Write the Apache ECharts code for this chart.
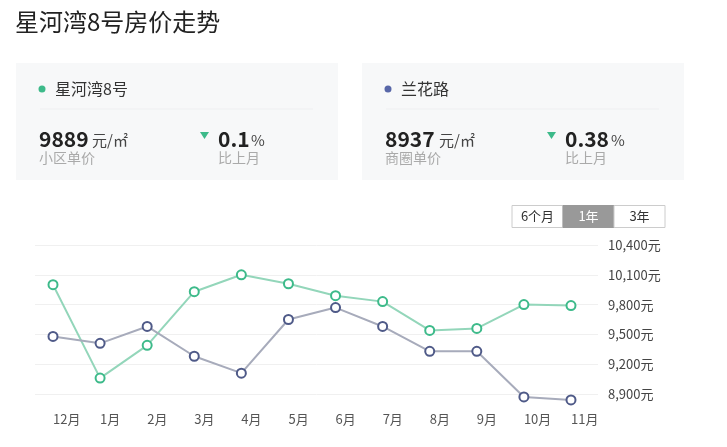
<!DOCTYPE html>
<html>
<head>
<meta charset="utf-8">
<script src="https://cdn.jsdelivr.net/npm/echarts@6/dist/echarts.min.js"></script>
<style>
html,body{margin:0;padding:0;background:#fff;}
#chart{width:727px;height:447px;}
</style>
</head>
<body>
<div id="chart"></div>
<script>
/*数据*/
const months = ["12月","1月","2月","3月","4月","5月","6月","7月","8月","9月","10月","11月"];
const xhwPrice = [10000, 9060, 9390, 9930, 10100, 10010, 9890, 9830, 9540, 9560, 9800, 9790];
const lhlPrice = [9480, 9410, 9580, 9280, 9110, 9650, 9770, 9580, 9330, 9330, 8870, 8840];
const yTicks = {min: 8900, max: 10400, step: 300};

const FONT = "'Noto Sans CJK SC', 'Noto Sans', sans-serif";
const GREEN = "#3dba8a", GREEN_LINE = "#93d6ba";
const BLUE = "#4f5a88", BLUE_LINE = "#a7abbb";
const STEP = 47.09; // 每月横向间距

const txt = (x, y, text, size, color, weight, align) => ({
	type: "text", x, y,
	style: {text, fontSize: size, fill: color, fontFamily: FONT, fontWeight: weight || "normal",
		align: align || "left", verticalAlign: "middle"}
});

// 顶部卡片
function card(x, name, dotColor, price, unitX, label, pct, pctX, pctUnitX){
	return [
		{type: "rect", shape: {x, y: 63, width: 322, height: 117}, style: {fill: "#f7f8f9"}},
		{type: "circle", shape: {cx: x + 26, cy: 89, r: 3.5}, style: {fill: dotColor}},
		txt(x + 39, 89, name, 16, "#333"),
		{type: "line", shape: {x1: x + 24, y1: 109, x2: x + 297, y2: 109}, style: {stroke: "#eeeff1", lineWidth: 1}},
		txt(x + 23, 139, price, 21, "#222", "bold"),
		txt(unitX, 140, "元/㎡", 15, "#444"),
		txt(x + 23, 158, label, 14, "#aaa"),
		{type: "polygon", shape: {points: [[pctX - 18, 132], [pctX - 9, 132], [pctX - 13.5, 139]]}, style: {fill: GREEN}},
		txt(pctX, 139, pct, 21, "#222", "bold"),
		txt(pctUnitX, 140, "%", 15, "#444"),
		txt(pctX, 158, "比上月", 14, "#aaa")
	];
}

// 时间按钮
function buttons(){
	const items = ["6个月","1年","3年"];
	const out = [];
	items.forEach((t, i) => {
		const x = 512 + i * 51;
		const active = i === 1;
		out.push({type: "rect", shape: {x: x, y: 205.5, width: 51, height: 22},
			style: {fill: active ? "#999" : "#fff", stroke: active ? "#999" : "#ccc", lineWidth: 1}});
		out.push(txt(x + 25.5, 216.5, t, 13, active ? "#fff" : "#333", "normal", "center"));
	});
	return out;
}

const toPairs = arr => arr.map((v, i) => [i, v]);

const chart = echarts.init(document.getElementById("chart"));

const option = {
	backgroundColor: "#fff",
	animation: false,
	textStyle: {fontFamily: FONT},
	graphic: [
		txt(15, 22, "星河湾8号房价走势", 24, "#222"),
		...card(16, "星河湾8号", GREEN, "9889", 92, "小区单价", "0.1", 218, 251),
		...card(362, "兰花路", "#5867a8", "8937", 439, "商圈单价", "0.38", 565, 611),
		...buttons()
	],
	grid: [
		{left: 35, width: 563, top: 245, height: 149},
		{left: 53, width: STEP * months.length, top: 245, height: 149}
	],
	xAxis: [
		{gridIndex: 0, type: "value", show: false, min: 0, max: 1},
		{
			gridIndex: 1, type: "value", min: 0, max: months.length, interval: 1,
			axisLine: {show: false}, axisTick: {show: false}, splitLine: {show: false},
			axisLabel: {align: "left", margin: 19, fontSize: 13, color: "#555", fontFamily: FONT,
				formatter: v => months[v] || ""}
		}
	],
	yAxis: [
		{
			gridIndex: 0, type: "value", position: "right",
			min: yTicks.min, max: yTicks.max, interval: yTicks.step,
			axisLine: {show: false}, axisTick: {show: false},
			splitLine: {lineStyle: {color: "#f0f0f0"}},
			axisLabel: {margin: 10, fontSize: 13, color: "#444", fontFamily: FONT,
				formatter: v => v.toLocaleString("en-US") + "元"}
		},
		{gridIndex: 1, type: "value", show: false, min: yTicks.min, max: yTicks.max}
	],
	series: [
		{
			name: "星河湾8号", type: "line", xAxisIndex: 1, yAxisIndex: 1, data: toPairs(xhwPrice),
			clip: false, symbol: "circle", symbolSize: 9,
			lineStyle: {color: GREEN_LINE, width: 2},
			itemStyle: {color: "#fff", borderColor: GREEN, borderWidth: 2}
		},
		{
			name: "兰花路", type: "line", xAxisIndex: 1, yAxisIndex: 1, data: toPairs(lhlPrice),
			clip: false, symbol: "circle", symbolSize: 9,
			lineStyle: {color: BLUE_LINE, width: 2},
			itemStyle: {color: "#fff", borderColor: BLUE, borderWidth: 2}
		}
	]
};

chart.setOption(option);
</script>
</body>
</html>
